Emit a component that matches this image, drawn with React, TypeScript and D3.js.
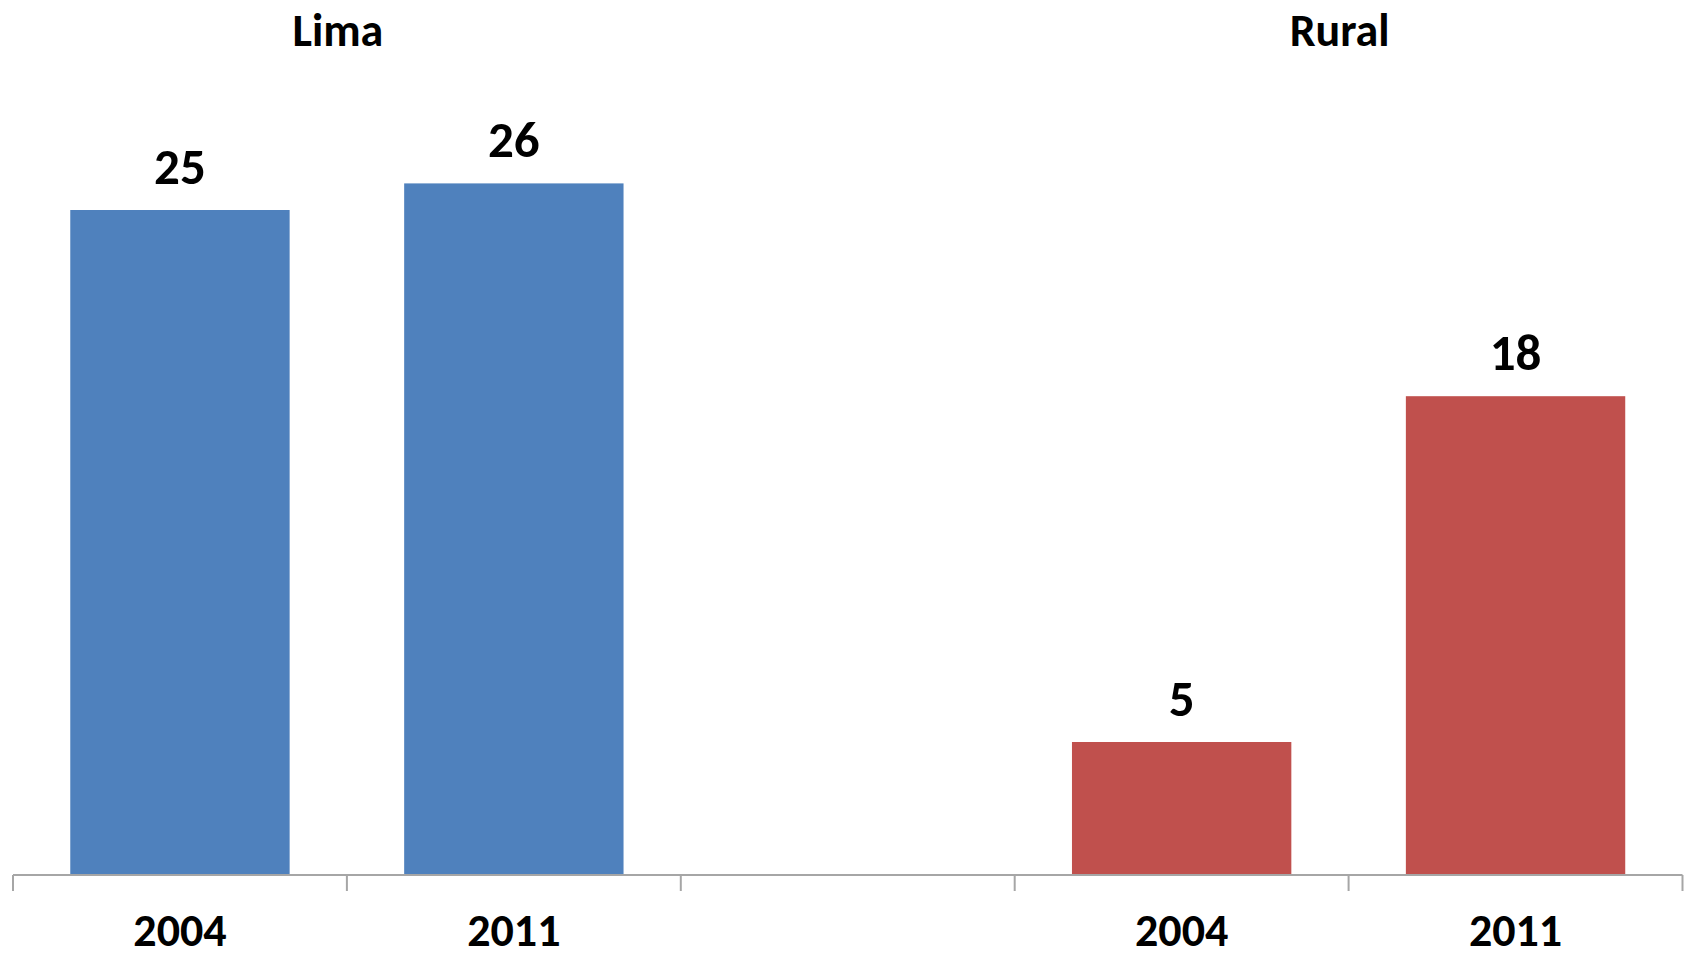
import React, { useEffect, useRef } from 'react';
import * as d3 from 'd3';

const slots = ['lima-2004', 'lima-2011', 'gap', 'rural-2004', 'rural-2011'];
const years = ['2004', '2011', '', '2004', '2011'];
const values = [25, 26, null, 5, 18];
const groups = ['Lima', 'Rural'];
const groupSlots = [['lima-2004', 'lima-2011'], ['rural-2004', 'rural-2011']];
const groupColors = ['#4F81BD', '#C0504D'];
const slotGroup = [0, 0, -1, 1, 1];

const App = () => {
  const chartRef = useRef(null);

  useEffect(() => {
    const svg = d3.select(chartRef.current);
    svg.selectAll('*').remove();
    const width = 1694;
    const height = 957;
    const font = 'Carlito, Lato, "Open Sans", sans-serif';

    const x = d3
      .scaleBand()
      .domain(slots)
      .range([13, 1682.5])
      .paddingInner(0.343)
      .paddingOuter(0.1715);

    const y = d3.scaleLinear().domain([0, 30]).range([875, 77]);

    svg.append('rect').attr('width', width).attr('height', height).attr('fill', '#ffffff');

    const bars = slots
      .map((s, i) => ({ slot: s, value: values[i], group: slotGroup[i], year: years[i] }))
      .filter((d) => d.value !== null);

    svg
      .selectAll('.bar')
      .data(bars)
      .enter()
      .append('rect')
      .attr('class', 'bar')
      .attr('x', (d) => x(d.slot))
      .attr('y', (d) => y(d.value))
      .attr('width', x.bandwidth())
      .attr('height', (d) => y(0) - y(d.value))
      .attr('fill', (d) => groupColors[d.group]);

    svg
      .selectAll('.val')
      .data(bars)
      .enter()
      .append('text')
      .attr('class', 'val')
      .attr('x', (d) => x(d.slot) + x.bandwidth() / 2)
      .attr('y', (d) => y(d.value) - 26)
      .attr('text-anchor', 'middle')
      .style('font-family', font)
      .style('font-weight', 'bold')
      .style('font-size', '51px')
      .text((d) => d.value);

    // axis: baseline with ticks on band boundaries
    const step = x.step();
    const left = x.range()[0];
    const axis = svg.append('g').attr('stroke', '#a6a6a6').attr('stroke-width', 2);
    axis.append('line').attr('x1', left).attr('x2', x.range()[1]).attr('y1', y(0)).attr('y2', y(0));
    d3.range(slots.length + 1).forEach((i) => {
      const tx = left + i * step;
      axis.append('line').attr('x1', tx).attr('x2', tx).attr('y1', y(0)).attr('y2', y(0) + 16);
    });

    svg
      .selectAll('.year')
      .data(slots.map((s, i) => ({ slot: s, year: years[i] })).filter((d) => d.year))
      .enter()
      .append('text')
      .attr('class', 'year')
      .attr('x', (d) => x(d.slot) + x.bandwidth() / 2)
      .attr('y', 946)
      .attr('text-anchor', 'middle')
      .style('font-family', font)
      .style('font-weight', 'bold')
      .style('font-size', '46px')
      .text((d) => d.year);

    svg
      .selectAll('.group')
      .data(groups)
      .enter()
      .append('text')
      .attr('class', 'group')
      .attr('x', (d, i) => {
        const [a, b] = groupSlots[i];
        return (x(a) + x(b) + x.bandwidth()) / 2 - 9;
      })
      .attr('y', 46)
      .attr('text-anchor', 'middle')
      .style('font-family', font)
      .style('font-weight', 'bold')
      .style('font-size', '46px')
      .text((d) => d);

  // eslint-disable-next-line react-hooks/exhaustive-deps
  }, []);

  return (
    <svg
      ref={chartRef}
      width="1694"
      height="957"
      style={{ position: 'absolute', left: 0, top: 0 }}
    ></svg>
  );
};

export default App;
